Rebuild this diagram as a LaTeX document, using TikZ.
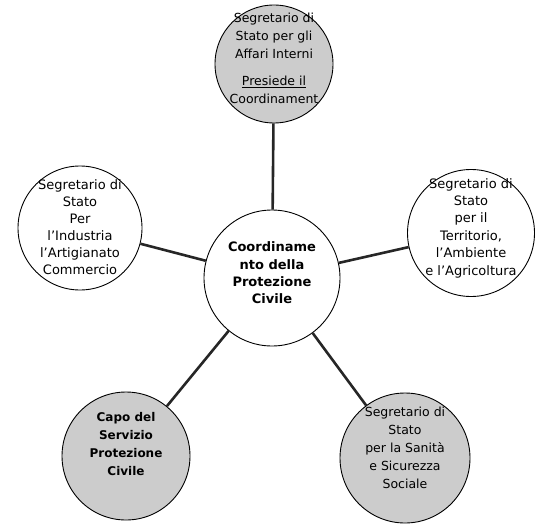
\documentclass[tikz,border=0pt]{standalone}
\usepackage{fontspec}
\setmainfont{DejaVu Sans}
\begin{document}
\begin{tikzpicture}[x=1pt,y=-1pt,
  bubble/.style={circle,draw=black,line width=0.9pt,inner sep=0pt},
  shaded/.style={bubble,fill=black!20},
  plain/.style={bubble,fill=white},
  label/.style={align=center,font=\fontsize{13}{17.3}\selectfont},
  link/.style={line width=2.6pt,black!85}]
\useasboundingbox (0,0) rectangle (537,524);
\node[shaded,minimum size=118pt] (top) at (274,64) {};
\node[plain,minimum size=124pt] (left) at (80,228) {};
\node[plain,minimum size=127pt] (right) at (471,233) {};
\node[plain,minimum size=136pt] (mid) at (272,278) {};
\node[shaded,minimum size=128pt] (bl) at (126,456) {};
\node[shaded,minimum size=130pt] (br) at (405,458) {};
\draw[link] (top) -- (mid);
\draw[link] (left) -- (mid);
\draw[link] (right) -- (mid);
\draw[link] (bl) -- (mid);
\draw[link] (br) -- (mid);
\node[label,font=\fontsize{12.5}{18}\selectfont] (toptext) at (274,58) {Segretario di\\Stato per gli\\Affari Interni\\[9pt]\underline{Presiede il}\\Coordinament};
\node[label,font=\fontsize{13}{17}\selectfont] (lefttext) at (80,227) {Segretario di\\Stato\\Per\\l'Industria\\l'Artigianato\\Commercio};
\node[label,font=\fontsize{13}{17.4}\selectfont] (righttext) at (471,228) {Segretario di\\Stato\\per il\\Territorio,\\l'Ambiente\\e l'Agricoltura};
\node[label,font=\bfseries\fontsize{13}{17.3}\selectfont] (midtext) at (272,273) {Coordiname\\nto della\\Protezione\\Civile};
\node[label,font=\bfseries\fontsize{12}{18}\selectfont] (bltext) at (126,444) {Capo del\\Servizio\\Protezione\\Civile};
\node[label,font=\fontsize{12.5}{18}\selectfont] (brtext) at (405,448) {Segretario di\\Stato\\per la Sanità\\e Sicurezza\\Sociale};
\end{tikzpicture}
\end{document}
